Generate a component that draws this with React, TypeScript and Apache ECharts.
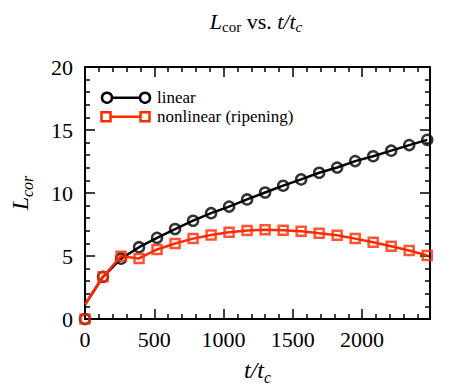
import React, { useEffect, useRef } from "react";
import * as echarts from "echarts";

const tValues = [0, 130, 260, 390, 520, 650, 780, 910, 1040, 1170, 1300, 1430, 1560, 1690, 1820, 1950, 2080, 2210, 2340, 2470];
const linearValues = [0, 3.35, 4.79, 5.7, 6.44, 7.14, 7.8, 8.4, 8.92, 9.49, 10.04, 10.58, 11.08, 11.61, 12.02, 12.53, 12.92, 13.36, 13.8, 14.22];
const nonlinearValues = [0, 3.35, 4.99, 4.81, 5.52, 5.99, 6.38, 6.67, 6.88, 7.03, 7.08, 7.05, 6.96, 6.8, 6.64, 6.38, 6.09, 5.78, 5.44, 5.04];
const lineStartValue = 1.15;
const seriesNames = ["linear", "nonlinear (ripening)"];
const xMin = 0;
const xMax = 2490;
const xInterval = 500;
const yMin = 0;
const yMax = 20;
const yInterval = 5;

const FONT = "Liberation Serif";
const RED = "#ff2a00";

function pairs(vals: number[]) {
  return tValues.map((t, i) => [t, vals[i]]);
}
function linePairs(vals: number[]) {
  return [[tValues[0], lineStartValue], ...tValues.slice(1).map((t, i) => [t, vals[i + 1]])];
}

export default function App() {
  const ref = useRef<HTMLDivElement>(null);
  useEffect(() => {
    const chart = echarts.init(ref.current!, null, { renderer: "svg" });
    const axisCommon = {
      axisLine: { show: true, onZero: false, lineStyle: { color: "#000", width: 2 } },
      axisTick: { show: true, inside: true, length: 10, lineStyle: { color: "#000", width: 1.5 } },
      minorTick: { show: true, splitNumber: 5, length: 5, lineStyle: { color: "#000", width: 1.5 } },
      splitLine: { show: false },
    };
    const xBase = { type: "value", min: xMin, max: xMax, interval: xInterval, ...axisCommon };
    const yBase = { type: "value", min: yMin, max: yMax, interval: yInterval, ...axisCommon };
    const option: any = {
      animation: false,
      backgroundColor: "#fff",
      textStyle: { fontFamily: FONT },
      grid: { left: 84, right: 20, top: 67, bottom: 68 },
      xAxis: [
        {
          ...xBase,
          position: "bottom",
          axisLabel: { color: "#000", fontFamily: FONT, fontSize: 22, margin: 9, showMaxLabel: false, formatter: (v: number) => String(v) },
          name: "{i|t/t}{sub|c}",
          nameLocation: "middle",
          nameGap: 36,
          nameTextStyle: {
            rich: {
              i: { fontFamily: FONT, fontStyle: "italic", fontSize: 24, color: "#000", lineHeight: 30 },
              sub: { fontFamily: FONT, fontStyle: "italic", fontSize: 16, color: "#000", verticalAlign: "bottom", lineHeight: 16 },
            },
          },
        },
        { ...xBase, position: "top", axisLabel: { show: false } },
      ],
      yAxis: [
        {
          ...yBase,
          position: "left",
          axisLabel: { color: "#000", fontFamily: FONT, fontSize: 22, margin: 12, formatter: (v: number) => String(v) },
          name: "{i|L}{sub|cor}",
          nameLocation: "middle",
          nameRotate: 90,
          nameGap: 50,
          nameTextStyle: {
            rich: {
              i: { fontFamily: FONT, fontStyle: "italic", fontSize: 24, color: "#000", lineHeight: 30 },
              sub: { fontFamily: FONT, fontStyle: "italic", fontSize: 16, color: "#000", verticalAlign: "bottom", lineHeight: 16 },
            },
          },
        },
        { ...yBase, position: "right", axisLabel: { show: false } },
      ],
      series: [
        {
          name: seriesNames[0] + " line",
          type: "line",
          data: linePairs(linearValues),
          showSymbol: false,
          symbol: "none",
          lineStyle: { color: "#000", width: 2.5 },
          itemStyle: { color: "#000" },
          z: 2,
        },
        {
          name: seriesNames[0],
          type: "scatter",
          data: pairs(linearValues),
          symbol: "circle",
          symbolSize: 10,
          clip: false,
          itemStyle: { color: "rgba(0,0,0,0)", borderColor: "#000", borderWidth: 2.5 },
          z: 3,
        },
        {
          name: seriesNames[1] + " line",
          type: "line",
          data: linePairs(nonlinearValues),
          showSymbol: false,
          symbol: "none",
          lineStyle: { color: RED, width: 2.5 },
          itemStyle: { color: RED },
          z: 4,
        },
        {
          name: seriesNames[1],
          type: "scatter",
          data: pairs(nonlinearValues),
          symbol: "rect",
          symbolSize: 9,
          clip: false,
          itemStyle: { color: "rgba(0,0,0,0)", borderColor: RED, borderWidth: 2.5 },
          z: 5,
        },
      ],
      graphic: [
        {
          type: "text",
          x: 256,
          y: 21,
          style: {
            text: "{i|L}{sub|cor}{n| vs. }{i|t/t}{isub|c}",
            align: "center",
            verticalAlign: "middle",
            rich: {
              i: { fontFamily: FONT, fontStyle: "italic", fontSize: 22, fill: "#000", lineHeight: 26 },
              n: { fontFamily: FONT, fontSize: 22, fill: "#000", lineHeight: 26 },
              sub: { fontFamily: FONT, fontSize: 15, fill: "#000", verticalAlign: "bottom", lineHeight: 14 },
              isub: { fontFamily: FONT, fontStyle: "italic", fontSize: 15, fill: "#000", verticalAlign: "bottom", lineHeight: 14 },
            },
          },
        },
        // legend
        { type: "line", shape: { x1: 107, y1: 97.7, x2: 145, y2: 97.7 }, style: { stroke: "#000", lineWidth: 2.5 } },
        { type: "circle", shape: { cx: 107, cy: 97.7, r: 5 }, style: { fill: "#fff", stroke: "#000", lineWidth: 2.5 } },
        { type: "circle", shape: { cx: 145, cy: 97.7, r: 5 }, style: { fill: "#fff", stroke: "#000", lineWidth: 2.5 } },
        { type: "text", x: 157, y: 97.7, style: { text: seriesNames[0], fontFamily: FONT, fontSize: 17, fill: "#000", verticalAlign: "middle" } },
        { type: "line", shape: { x1: 106, y1: 116.7, x2: 145, y2: 116.7 }, style: { stroke: RED, lineWidth: 2.5 } },
        { type: "rect", shape: { x: 101.5, y: 112.2, width: 9, height: 9 }, style: { fill: "#fff", stroke: RED, lineWidth: 2.5 } },
        { type: "rect", shape: { x: 140.5, y: 112.2, width: 9, height: 9 }, style: { fill: "#fff", stroke: RED, lineWidth: 2.5 } },
        { type: "text", x: 157, y: 116.7, style: { text: seriesNames[1], fontFamily: FONT, fontSize: 17, fill: "#000", verticalAlign: "middle" } },
      ],
    };
    chart.setOption(option);
    return () => chart.dispose();
  }, []);
  return <div ref={ref} style={{ position: "absolute", left: 0, top: 0, width: 450, height: 390 }} />;
}
